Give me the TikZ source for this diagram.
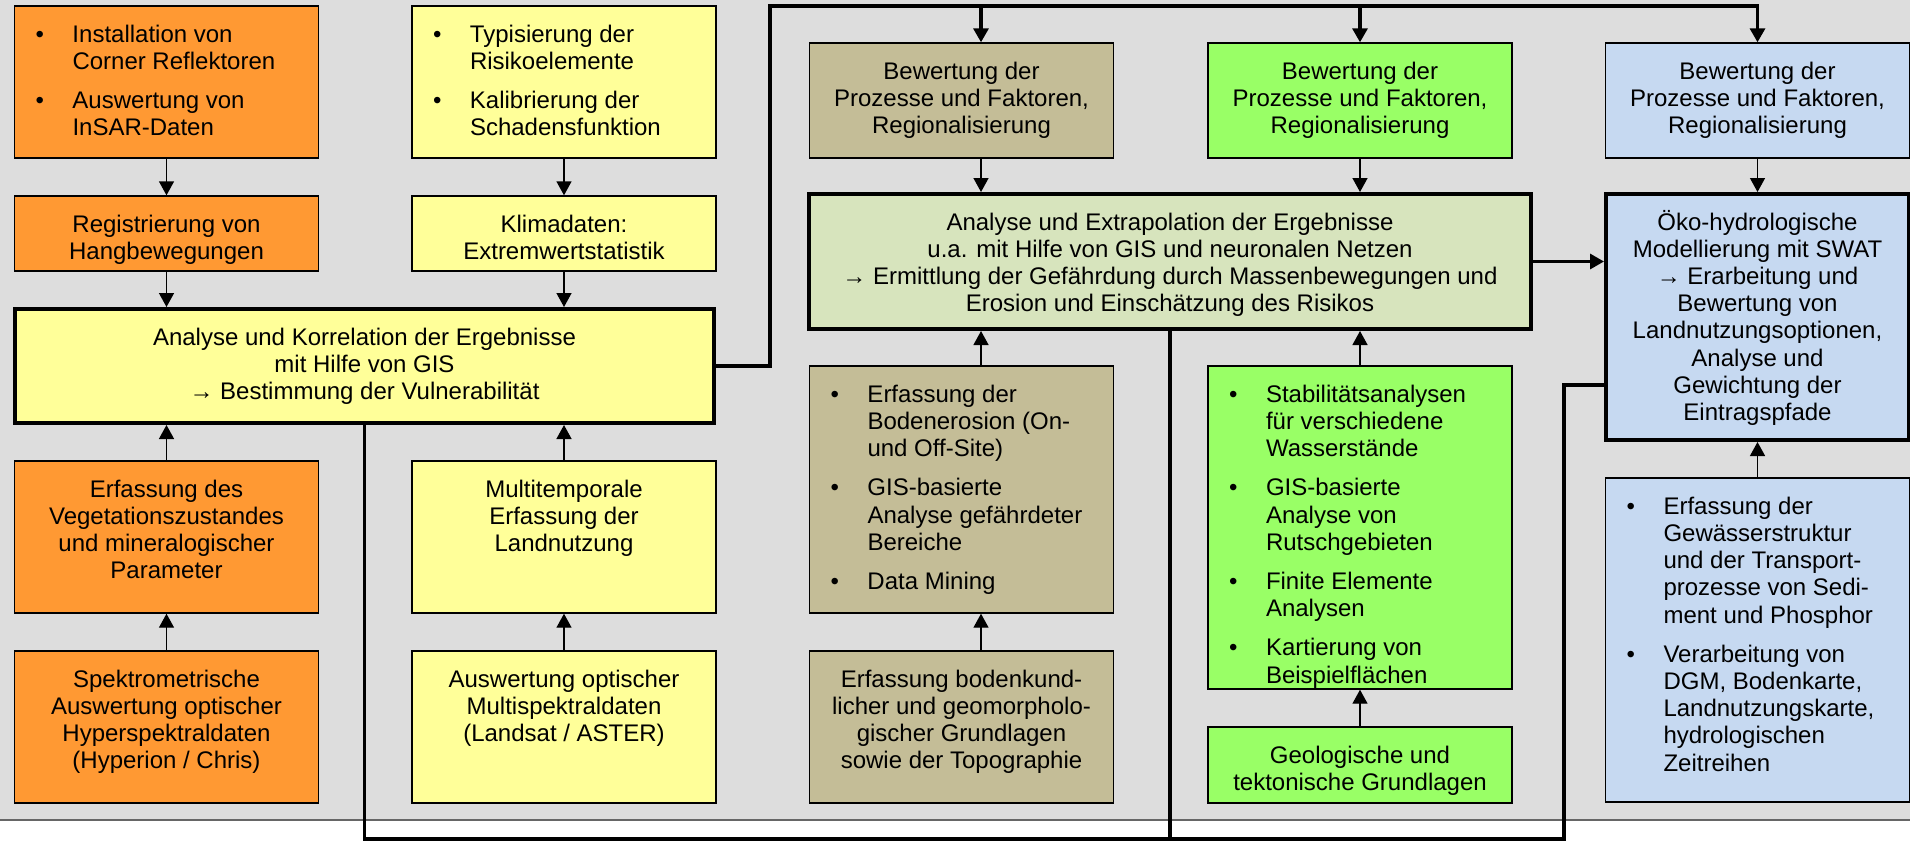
\documentclass[tikz,border=0pt]{standalone}
\usepackage{fontspec}
\setmainfont{Liberation Sans}
\usetikzlibrary{arrows.meta}

\definecolor{bggrey}{HTML}{DDDDDD}
\definecolor{orng}{HTML}{FF9933}
\definecolor{yllw}{HTML}{FFFF99}
\definecolor{brwn}{HTML}{C4BD97}
\definecolor{grn}{HTML}{99FF66}
\definecolor{lgrn}{HTML}{D7E4BD}
\definecolor{blu}{HTML}{C6D9F1}

% box contents: centred lines, or bullet list, both top aligned
\newcommand{\boxtxt}[3][152pt]{\parbox[c][#2][t]{#1}{\centering\rule{0pt}{18pt}#3}}
\newcommand{\bultxt}[2]{\parbox[c][#1][t]{152pt}{\vspace*{8.6pt}\begin{tabular}{@{\hspace{10.5pt}}p{18.5pt}@{}l@{}}#2\end{tabular}}}

\tikzset{
  cell/.style={draw=black, line width=0.7pt, inner sep=0pt},
  keycell/.style={draw=black, line width=2pt, inner sep=0pt},
  flow/.style={line width=0.7pt, -{Triangle[length=7pt,width=7.5pt]}},
  busline/.style={line width=1.6pt},
  busarrow/.style={busline, -{Triangle[length=7pt,width=7.5pt]}}
}

\begin{document}
\begin{tikzpicture}[x=0.5pt, y=-0.5pt, font={\fontsize{12pt}{13.6pt}\selectfont}]
    \useasboundingbox (0,0) rectangle (1910,842);

    % grey panel
    \fill[bggrey] (0,0) rectangle (1910,820);
    \draw[black!60, line width=0.6pt] (0,820) -- (1910,820);

    % left part: orange and yellow columns
    \node[cell, fill=orng] (inst) at (166.5,82) {\bultxt{76pt}{\textbullet & Installation von\\ & Corner Reflektoren\\[6pt] \textbullet & Auswertung von\\ & InSAR-Daten}};
    \node[cell, fill=yllw] (typ) at (564,82) {\bultxt{76pt}{\textbullet & Typisierung der\\ & Risikoelemente\\[6pt] \textbullet & Kalibrierung der\\ & Schadensfunktion}};
    \node[cell, fill=orng] (hang) at (166.5,233.5) {\boxtxt{37.5pt}{Registrierung von\\Hangbewegungen}};
    \node[cell, fill=yllw] (klima) at (564,233.5) {\boxtxt{37.5pt}{Klimadaten:\\Extremwertstatistik}};
    \node[keycell, fill=yllw] (vuln) at (364.5,366) {\boxtxt[349.5pt]{57pt}{Analyse und Korrelation der Ergebnisse\\mit Hilfe von GIS\\→ Bestimmung der Vulnerabilität}};
    \node[cell, fill=orng] (veg) at (166.5,537) {\boxtxt{76pt}{Erfassung des\\Vegetationszustandes\\und mineralogischer\\Parameter}};
    \node[cell, fill=yllw] (landn) at (564,537) {\boxtxt{76pt}{Multitemporale\\Erfassung der\\Landnutzung}};
    \node[cell, fill=orng] (hyper) at (166.5,727) {\boxtxt{76pt}{Spektrometrische\\Auswertung optischer\\Hyperspektraldaten\\(Hyperion / Chris)}};
    \node[cell, fill=yllw] (multi) at (564,727) {\boxtxt{76pt}{Auswertung optischer\\Multispektraldaten\\(Landsat / ASTER)}};

    % right part: brown, green and blue columns
    \node[cell, fill=brwn] (bewA) at (961.5,100.5) {\boxtxt{57.5pt}{Bewertung der\\Prozesse und Faktoren,\\Regionalisierung}};
    \node[cell, fill=grn] (bewB) at (1360,100.5) {\boxtxt{57.5pt}{Bewertung der\\Prozesse und Faktoren,\\Regionalisierung}};
    \node[cell, fill=blu] (bewC) at (1757.5,100.5) {\boxtxt{57.5pt}{Bewertung der\\Prozesse und Faktoren,\\Regionalisierung}};
    \node[keycell, fill=lgrn] (extra) at (1170,261.5) {\boxtxt[361pt]{67.5pt}{Analyse und Extrapolation der Ergebnisse\\u.a. mit Hilfe von GIS und neuronalen Netzen\\→ Ermittlung der Gefährdung durch Massenbewegungen und\\Erosion und Einschätzung des Risikos}};
    \node[keycell, fill=blu] (swat) at (1757.5,317) {\boxtxt[151.5pt]{123pt}{Öko-hydrologische\\Modellierung mit SWAT\\→ Erarbeitung und\\Bewertung von\\Landnutzungsoptionen,\\Analyse und\\Gewichtung der\\Eintragspfade}};
    \node[cell, fill=brwn] (boden) at (961.5,489.5) {\bultxt{123.5pt}{\textbullet & Erfassung der\\ & Bodenerosion (On-\\ & und Off-Site)\\[6pt] \textbullet & GIS-basierte\\ & Analyse gefährdeter\\ & Bereiche\\[6pt] \textbullet & Data Mining}};
    \node[cell, fill=grn] (stab) at (1360,527.5) {\bultxt{161.5pt}{\textbullet & Stabilitätsanalysen\\ & für verschiedene\\ & Wasserstände\\[6pt] \textbullet & GIS-basierte\\ & Analyse von\\ & Rutschgebieten\\[6pt] \textbullet & Finite Elemente\\ & Analysen\\[6pt] \textbullet & Kartierung von\\ & Beispielflächen}};
    \node[cell, fill=brwn] (topo) at (961.5,727) {\boxtxt{76pt}{Erfassung bodenkund-\\licher und geomorpholo-\\gischer Grundlagen\\sowie der Topographie}};
    \node[cell, fill=grn] (geo) at (1360,765) {\boxtxt{38pt}{Geologische und\\tektonische Grundlagen}};
    \node[cell, fill=blu] (gew) at (1757.5,640) {\bultxt{162pt}{\textbullet & Erfassung der\\ & Gewässerstruktur\\ & und der Transport-\\ & prozesse von Sedi-\\ & ment und Phosphor\\[6pt] \textbullet & Verarbeitung von\\ & DGM, Bodenkarte,\\ & Landnutzungskarte,\\ & hydrologischen\\ & Zeitreihen}};

    % thin arrows inside the columns
    \draw[flow] (inst) -- (hang);
    \draw[flow] (hang.south) -- (hang.south |- vuln.north);
    \draw[flow] (typ) -- (klima);
    \draw[flow] (klima.south) -- (klima.south |- vuln.north);
    \draw[flow] (veg.north) -- (veg.north |- vuln.south);
    \draw[flow] (hyper) -- (veg);
    \draw[flow] (landn.north) -- (landn.north |- vuln.south);
    \draw[flow] (multi) -- (landn);
    \draw[flow] ([xshift=9.75pt]bewA.south) -- ([xshift=9.75pt]bewA.south |- extra.north);
    \draw[flow] ([xshift=9.75pt]boden.north) -- ([xshift=9.75pt]boden.north |- extra.south);
    \draw[flow] ([xshift=9.75pt]topo.north) -- ([xshift=9.75pt]boden.south);
    \draw[flow] (bewB.south) -- (bewB.south |- extra.north);
    \draw[flow] (stab.north) -- (stab.north |- extra.south);
    \draw[flow] (geo) -- (stab);
    \draw[flow] (bewC) -- (swat);
    \draw[flow] (gew) -- (swat);

    % thick connections
    \coordinate (top) at (770,6);
    \coordinate (loop) at (1564,839);
    \draw[busarrow] (vuln.east) -| (top) -| (bewC.north);
    \draw[busarrow] ([xshift=9.75pt]bewA.north |- top) -- ([xshift=9.75pt]bewA.north);
    \draw[busarrow] (bewB.north |- top) -- (bewB.north);
    \draw[busarrow] (extra.east) -- (extra.east -| swat.west);
    \draw[busline] (vuln.south) |- (loop) |- ([yshift=-34pt]swat.west);
    \draw[busline] (extra.south) -- (extra.south |- loop);
\end{tikzpicture}
\end{document}
